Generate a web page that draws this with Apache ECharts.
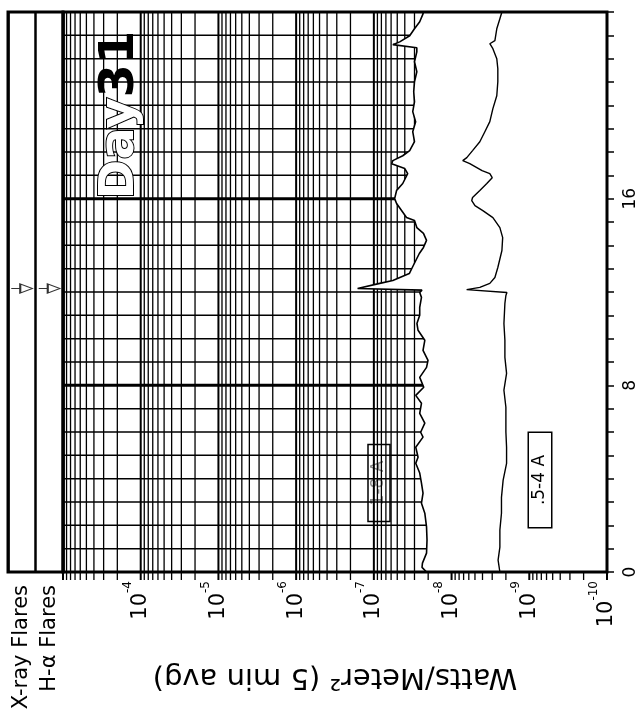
<!DOCTYPE html>
<html><head><meta charset="utf-8">
<script src="https://cdn.jsdelivr.net/npm/echarts@6/dist/echarts.min.js"></script>
<style>html,body{margin:0;padding:0;background:#fff}#c{width:641px;height:728px}</style>
</head><body><div id="c"></div>
<script>
// ---- data ----
const hours18 = [0,0.2,0.38,0.81,1.37,1.93,2.52,2.95,3.38,3.81,4.24,4.66,4.92,5.35,5.78,5.99,6.38,6.8,7.23,7.57,7.92,8.34,8.77,9.07,9.5,9.93,10.36,10.65,11.0,11.34,11.77,11.98,12.08,12.15,12.37,12.49,12.79,13.05,13.65,13.91,14.21,14.51,14.76,15.06,15.19,15.49,15.79,16.0,16.35,16.65,17.07,17.29,17.5,17.63,17.84,18.06,18.44,18.87,19.3,19.73,20.15,20.58,21.01,21.44,21.87,22.29,22.47,22.6,22.72,22.98,23.28,23.58,23.92,24];
const flux18 = [2.1e-8,2.4e-8,2.37e-8,2.1e-8,2.07e-8,2.1e-8,2.21e-8,2.44e-8,2.33e-8,2.44e-8,2.57e-8,2.89e-8,2.7e-8,2.89e-8,2.33e-8,2.5e-8,2.21e-8,2.57e-8,2.44e-8,2.89e-8,2.28e-8,2.57e-8,2.1e-8,2.01e-8,2.33e-8,2.21e-8,2.7e-8,2.79e-8,2.57e-8,2.57e-8,2.44e-8,2.57e-8,2.4e-8,1.62e-7,8.4e-8,5.7e-8,3.5e-8,3.2e-8,2.6e-8,2.3e-8,2.1e-8,2.3e-8,2.8e-8,3.0e-8,3.8e-8,4.4e-8,5.1e-8,5.4e-8,5.1e-8,4.25e-8,3.67e-8,4.0e-8,5.9e-8,5.7e-8,4.25e-8,3.46e-8,3.0e-8,3.16e-8,2.9e-8,3.16e-8,3.0e-8,3.07e-8,3.0e-8,2.8e-8,3.0e-8,2.8e-8,2.8e-8,5.7e-8,4.65e-8,3.46e-8,3.0e-8,2.57e-8,2.33e-8,2.3e-8];
const hours054 = [0,0.51,1.07,1.8,2.52,3.2,3.94,4.66,5.35,6.0,7.06,7.79,8.51,9.2,9.93,10.65,11.51,11.85,11.98,12.1,12.2,12.37,12.62,13.05,13.78,14.33,14.76,15.19,15.49,15.7,15.92,16.05,16.35,16.65,16.9,17.07,17.2,17.5,17.63,17.76,18.06,18.44,18.87,19.3,19.86,20.41,21.01,21.57,22.0,22.43,22.64,22.77,23.28,23.71,24];
const flux054 = [2.39e-9,2.52e-9,2.39e-9,2.39e-9,2.28e-9,2.28e-9,2.17e-9,1.96e-9,1.96e-9,2.0e-9,2.0e-9,2.12e-9,1.96e-9,2.06e-9,2.06e-9,2.12e-9,2.06e-9,2.0e-9,1.94e-9,6.4e-9,4.33e-9,3.22e-9,2.77e-9,2.54e-9,2.25e-9,2.2e-9,2.39e-9,2.94e-9,3.96e-9,5.0e-9,5.5e-9,5.37e-9,4.33e-9,3.52e-9,3.0e-9,3.22e-9,4.05e-9,5.83e-9,7.18e-9,6.37e-9,5.37e-9,4.33e-9,3.73e-9,3.22e-9,2.94e-9,2.62e-9,2.54e-9,2.54e-9,2.62e-9,2.94e-9,3.22e-9,2.77e-9,2.62e-9,2.39e-9,2.25e-9];
const flareLanes = ['X-ray Flares', 'H-α Flares'];
const flareHours = [12.15, 12.15];
const fluxDecades = [-10, -9, -8, -7, -6, -5, -4, -3];
const fluxMantissas = [1, 2, 3, 4, 5, 6, 7, 8, 9];
const hourTicks = [0,1,2,3,4,5,6,7,8,9,10,11,12,13,14,15,16,17,18,19,20,21,22,23,24];
const hourLabels = [0, 8, 16];
const majorHours = [8, 16];
const fluxMin = 1e-10, fluxMax = 1e-3;
const titleText = 'Watts/Meter² (5 min avg)';
const dayText = ['Day', '31'];
const bandLabels = ['1-8 A', '.5-4 A'];

// ---- build ----
const FONT = 'DejaVu Sans';
const gridFlux = [];
fluxDecades.forEach(d => fluxMantissas.forEach(m => {
  const v = m * Math.pow(10, d);
  if (v <= fluxMax * 1.0001) gridFlux.push({v: v, major: m === 1});
}));

const chart = echarts.init(document.getElementById('c'), null, {renderer: 'canvas'});

function renderGrid(params, api) {
  const ch = [];
  gridFlux.forEach(g => {
    const a = api.coord([g.v, 24]), b = api.coord([g.v, 0]);
    ch.push({type: 'line', shape: {x1: a[0], y1: a[1], x2: b[0], y2: b[1] + 8},
      style: {stroke: '#000', lineWidth: g.major ? 2 : 1.3}});
  });
  hourTicks.forEach(h => {
    const a = api.coord([fluxMax, h]), b = api.coord([fluxMin, h]);
    ch.push({type: 'line', shape: {x1: a[0], y1: a[1], x2: b[0], y2: b[1]},
      style: {stroke: '#000', lineWidth: majorHours.indexOf(h) >= 0 ? 3 : 1.5}});
  });
  return {type: 'group', children: ch};
}
function renderCover(params, api) {
  const pts = hours18.map((h, i) => api.coord([flux18[i], h]));
  pts.push(api.coord([fluxMin, 24]), api.coord([fluxMin, 0]));
  return {type: 'polygon', shape: {points: pts}, style: {fill: '#fff'}};
}

const option = {
  backgroundColor: '#fff',
  animation: false,
  textStyle: {fontFamily: FONT, color: '#000'},
  grid: [
    {left: 8, top: 12, width: 55, bottom: 156, show: true, borderColor: '#000', borderWidth: 3, z: 10},
    {left: 63, top: 12, right: 34, bottom: 156, show: true, borderColor: '#000', borderWidth: 3, z: 10}
  ],
  xAxis: [
    {gridIndex: 0, type: 'category', data: flareLanes, position: 'bottom',
      axisLine: {show: false}, axisTick: {show: false},
      splitLine: {show: true, lineStyle: {color: '#000', width: 2.5}},
      axisLabel: {rotate: 90, interval: 0, margin: 13, fontSize: 21, fontFamily: FONT, color: '#000'}},
    {gridIndex: 1, type: 'log', logBase: 10, min: fluxMin, max: fluxMax, inverse: true, splitNumber: 7,
      position: 'bottom', axisLine: {show: false}, axisTick: {show: false}, splitLine: {show: false},
      minorTick: {show: false}, minorSplitLine: {show: false},
      name: titleText, nameLocation: 'middle', nameRotate: 180, nameGap: 90,
      nameTextStyle: {fontSize: 29, fontFamily: FONT, color: '#000'},
      axisLabel: {rotate: 90, margin: 9, color: '#000', fontFamily: FONT,
        formatter: function (v) {
          const e = Math.round(Math.log10(v));
          if (e >= -3) return '';
          return '{b|10}{e|' + e + '}';
        },
        rich: {b: {fontSize: 21, fontFamily: FONT, color: '#000'},
               e: {fontSize: 12, fontFamily: FONT, color: '#000', padding: [0, 0, 26, 0]}}}}
  ],
  yAxis: [
    {gridIndex: 0, type: 'value', min: 0, max: 24, show: false},
    {gridIndex: 1, type: 'value', min: 0, max: 24, interval: 1, position: 'right',
      axisLine: {show: false}, splitLine: {show: false},
      axisTick: {show: true, inside: false, length: 7, lineStyle: {color: '#000', width: 1.5}},
      axisLabel: {rotate: 90, margin: 15, fontSize: 17, fontFamily: FONT, color: '#000',
        formatter: v => hourLabels.indexOf(v) >= 0 ? String(v) : ''}}
  ],
  series: [
    {type: 'custom', name: 'grid', xAxisIndex: 1, yAxisIndex: 1, z: 1, silent: true,
      data: [[1e-5, 12]], renderItem: renderGrid},
    {type: 'custom', name: 'cover', xAxisIndex: 1, yAxisIndex: 1, z: 2, silent: true,
      data: [[1e-5, 12]], renderItem: renderCover},
    {type: 'line', name: '1-8 A', xAxisIndex: 1, yAxisIndex: 1, z: 3, showSymbol: false,
      lineStyle: {color: '#000', width: 1.6},
      data: hours18.map((h, i) => [flux18[i], h])},
    {type: 'line', name: '.5-4 A', xAxisIndex: 1, yAxisIndex: 1, z: 3, showSymbol: false,
      lineStyle: {color: '#000', width: 1.4},
      data: hours054.map((h, i) => [flux054[i], h])},
    {type: 'scatter', name: 'flares', xAxisIndex: 0, yAxisIndex: 0, z: 5,
      symbol: 'path://M0,5 L9,5 L9,1 L21,5 L9,9 L9,5 Z', symbolSize: [21, 9],
      itemStyle: {color: '#fff', borderColor: '#000', borderWidth: 1.4},
      data: flareLanes.map((l, i) => [l, flareHours[i]])}
  ],
  graphic: [
    {type: 'text', x: 121, y: 115, rotation: Math.PI / 2, z: 20,
      style: {text: '{a|' + dayText[0] + '}{b|' + dayText[1] + '}', align: 'center', verticalAlign: 'middle',
        rich: {a: {fontSize: 48, fontWeight: 'bold', fontFamily: FONT, fill: '#fff', stroke: '#000', lineWidth: 2},
               b: {fontSize: 48, fontWeight: 'bold', fontFamily: FONT, fill: '#000'}}}},
    {type: 'text', x: 379, y: 483, rotation: Math.PI / 2, z: 0,
      style: {text: bandLabels[0], align: 'center', verticalAlign: 'middle', fontSize: 17, fontFamily: FONT,
        fill: '#888', borderColor: '#000', borderWidth: 1.5, padding: [3, 16, 2, 16]}},
    {type: 'text', x: 540, y: 480, rotation: Math.PI / 2, z: 20,
      style: {text: bandLabels[1], align: 'center', verticalAlign: 'middle', fontSize: 17, fontFamily: FONT,
        fill: '#000', backgroundColor: '#fff', borderColor: '#000', borderWidth: 1.5, padding: [3, 22, 2, 22]}}
  ]
};
chart.setOption(option);
</script></body></html>
